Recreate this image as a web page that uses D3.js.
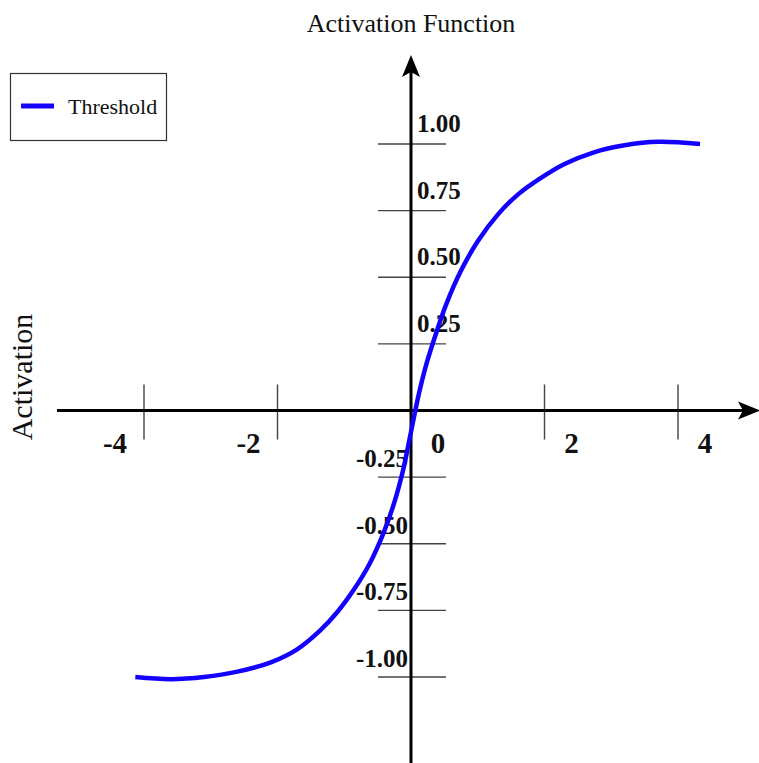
<!DOCTYPE html>
<html>
<head>
<meta charset="utf-8">
<script src="https://cdn.jsdelivr.net/npm/d3@7"></script>
<style>
  html, body { margin: 0; padding: 0; background: #fff; }
  svg { display: block; }
</style>
</head>
<body>
<svg id="chart" width="759" height="763"></svg>
<script>
// Activation curve samples (input, activation)
const inputs = [-4.13, -3.6, -3.1, -2.6, -2.1, -1.7, -1.36, -1.1, -0.85, -0.62, -0.42, -0.25, -0.12, -0.04, 0.04, 0.12, 0.22, 0.35, 0.53, 0.75, 1.0, 1.3, 1.6, 1.93, 2.3, 2.73, 3.2, 3.7, 4.33];
const activations = [-1.0, -1.008, -1.0, -0.98, -0.945, -0.895, -0.825, -0.755, -0.67, -0.575, -0.465, -0.345, -0.225, -0.13, -0.03, 0.065, 0.165, 0.27, 0.40, 0.525, 0.635, 0.735, 0.81, 0.87, 0.925, 0.968, 0.995, 1.008, 1.0];

const xTickValues = [-4, -2, 0, 2, 4];
const xTickLabels = ["-4", "-2", "0", "2", "4"];
const yTickValues = [-1, -0.75, -0.5, -0.25, 0.25, 0.5, 0.75, 1];
const yTickLabels = ["-1.00", "-0.75", "-0.50", "-0.25", "0.25", "0.50", "0.75", "1.00"];

const seriesName = "Threshold";
const titleText = "Activation Function";
const yAxisTitle = "Activation";

const W = 759, H = 763;
const svg = d3.select("#chart");

const x = d3.scaleLinear().domain([-4, 4]).range([144, 678]);
const y = d3.scaleLinear().domain([-1, 1]).range([677, 144]);

const serif = "'Liberation Serif', 'Times New Roman', serif";
const x0 = x(0), y0 = y(0);

// tick marks crossing the axes
const g = svg.append("g");
g.selectAll(".xtick")
  .data(xTickValues.filter(v => v !== 0))
  .join("line")
  .attr("x1", d => x(d)).attr("x2", d => x(d))
  .attr("y1", y0 - 26).attr("y2", y0 + 29)
  .attr("stroke", "#444").attr("stroke-width", 1.4);

g.selectAll(".ytick")
  .data(yTickValues)
  .join("line")
  .attr("x1", x0 - 33).attr("x2", x0 + 35)
  .attr("y1", d => y(d)).attr("y2", d => y(d))
  .attr("stroke", "#444").attr("stroke-width", 1.4);

// main axes
g.append("line")
  .attr("x1", 57).attr("x2", W - 8)
  .attr("y1", y0).attr("y2", y0)
  .attr("stroke", "#000").attr("stroke-width", 3);
g.append("line")
  .attr("x1", x0).attr("x2", x0)
  .attr("y1", 68).attr("y2", H)
  .attr("stroke", "#000").attr("stroke-width", 3);

// arrow heads
const head = "M0,0 L-9,22 L0,17 L9,22 Z";
g.append("path").attr("d", head)
  .attr("transform", `translate(${x0},55)`).attr("fill", "#000");
g.append("path").attr("d", head)
  .attr("transform", `translate(${W + 1},${y0}) rotate(90)`).attr("fill", "#000");

// tick labels
g.selectAll(".xlab")
  .data(xTickValues)
  .join("text")
  .attr("x", d => x(d) + (d < 0 ? -29 : 27))
  .attr("y", y0 + 42)
  .attr("text-anchor", "middle")
  .attr("font-family", serif).attr("font-weight", "bold").attr("font-size", 29)
  .attr("fill", "#111")
  .text((d, i) => xTickLabels[i]);

g.selectAll(".ylab")
  .data(yTickValues)
  .join("text")
  .attr("x", d => d < 0 ? x0 - 3 : x0 + 6)
  .attr("y", d => y(d) - (d < 0 ? 10 : 12))
  .attr("text-anchor", d => d < 0 ? "end" : "start")
  .attr("font-family", serif).attr("font-weight", "bold").attr("font-size", 25)
  .attr("fill", "#111")
  .text((d, i) => yTickLabels[i]);

// curve
const pts = inputs.map((v, i) => [v, activations[i]]);
const line = d3.line()
  .x(d => x(d[0])).y(d => y(d[1]))
  .curve(d3.curveCatmullRom.alpha(0.5));
svg.append("path")
  .datum(pts)
  .attr("d", line)
  .attr("fill", "none")
  .attr("stroke", "#1400ff")
  .attr("stroke-width", 4.5)
  .attr("stroke-linejoin", "round");

// titles
svg.append("text")
  .attr("x", 411).attr("y", 32)
  .attr("text-anchor", "middle")
  .attr("font-family", serif).attr("font-size", 26)
  .attr("fill", "#111")
  .text(titleText);

svg.append("text")
  .attr("transform", "translate(32,377) rotate(-90)")
  .attr("text-anchor", "middle")
  .attr("font-family", serif).attr("font-size", 30)
  .attr("fill", "#111")
  .text(yAxisTitle);

// legend
const lg = svg.append("g");
lg.append("rect")
  .attr("x", 10.5).attr("y", 73.5).attr("width", 156).attr("height", 67)
  .attr("fill", "#fff").attr("stroke", "#333").attr("stroke-width", 1.2);
lg.append("line")
  .attr("x1", 21).attr("x2", 54).attr("y1", 106).attr("y2", 106)
  .attr("stroke", "#1400ff").attr("stroke-width", 5);
lg.append("text")
  .attr("x", 68).attr("y", 114)
  .attr("font-family", serif).attr("font-size", 22)
  .attr("fill", "#111")
  .text(seriesName);
</script>
</body>
</html>
